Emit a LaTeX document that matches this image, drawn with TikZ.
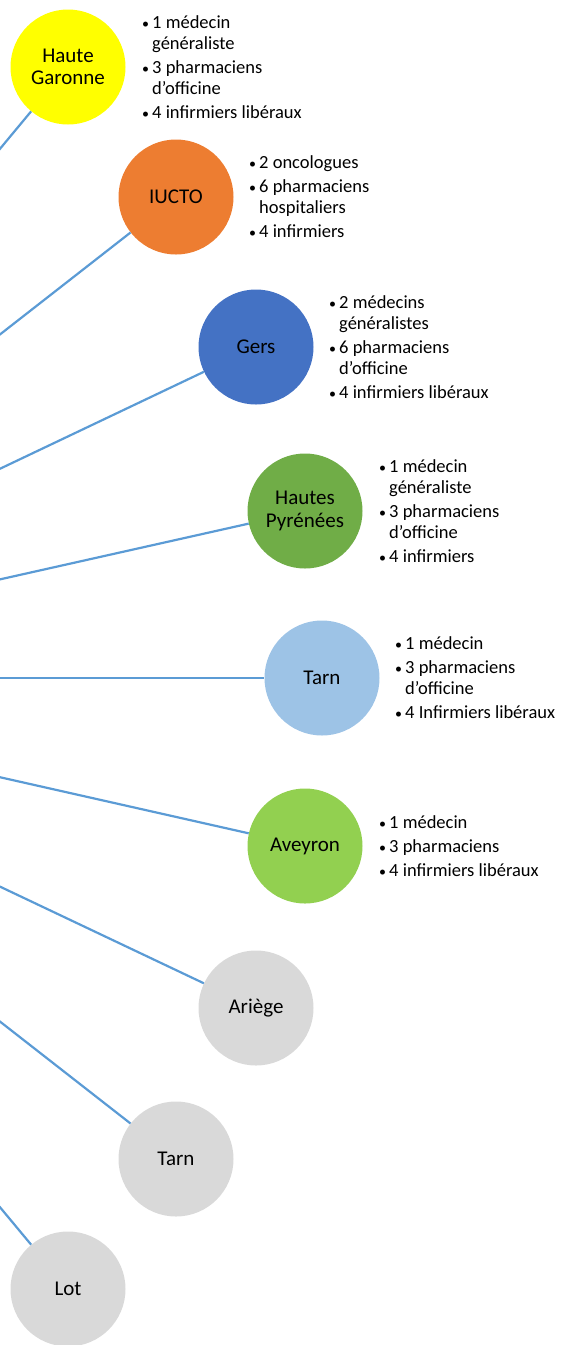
\documentclass[tikz,border=0pt]{standalone}
\usepackage{fontspec}
\setmainfont{Carlito}
\definecolor{linkblue}{HTML}{5B9BD5}
\definecolor{cyellow}{HTML}{FFFF00}
\definecolor{corange}{HTML}{ED7D31}
\definecolor{cblue}{HTML}{4472C4}
\definecolor{cgreen}{HTML}{70AD47}
\definecolor{clightblue}{HTML}{9DC3E6}
\definecolor{clightgreen}{HTML}{92D050}
\definecolor{cgray}{HTML}{D9D9D9}
\newcommand\bitem[1]{\makebox[10pt][l]{\fontsize{14}{14}\selectfont\textbullet}#1}
\newcommand\bcont[1]{\hspace*{10pt}#1}
\begin{document}
\begin{tikzpicture}[x=1pt,y=-1pt,
  region/.style={circle, minimum size=115pt, inner sep=0pt, align=center,
    font=\fontsize{21}{22.5}\selectfont, text=black},
  info/.style={anchor=west, align=left, inner sep=0pt,
    font=\fontsize{18.5}{21}\selectfont, text=black},
  link/.style={draw=linkblue, line width=2.2pt}]
\useasboundingbox (0,0) rectangle (560,1345);
\clip (0,0) rectangle (560,1345);
\coordinate (hub) at (-440,678);
\node[region, fill=cyellow] (hg) at (68,67) {Haute\\Garonne};
\node[region, fill=corange] (iucto) at (176,197) {IUCTO};
\node[region, fill=cblue] (gers) at (256,347) {Gers};
\node[region, fill=cgreen] (hp) at (305,511) {Hautes\\Pyrénées};
\node[region, fill=clightblue] (tarn) at (322,678) {Tarn};
\node[region, fill=clightgreen] (aveyron) at (305,846) {Aveyron};
\node[region, fill=cgray] (ariege) at (256,1008) {Ariège};
\node[region, fill=cgray] (tarn2) at (176,1159) {Tarn};
\node[region, fill=cgray] (lot) at (68,1289) {Lot};
\foreach \n in {hg,iucto,gers,hp,tarn,aveyron,ariege,tarn2,lot}
  \draw[link] (hub) -- (\n);
\node[info] (hginfo) at ([xshift=74pt]hg.center) {\bitem{1 médecin}\\\bcont{généraliste}\\[3pt]\bitem{3 pharmaciens}\\\bcont{d’officine}\\[3pt]\bitem{4 infirmiers libéraux}};
\node[info] (iuctoinfo) at ([xshift=73pt]iucto.center) {\bitem{2 oncologues}\\[3pt]\bitem{6 pharmaciens}\\\bcont{hospitaliers}\\[3pt]\bitem{4 infirmiers}};
\node[info] (gersinfo) at ([xshift=73pt]gers.center) {\bitem{2 médecins}\\\bcont{généralistes}\\[3pt]\bitem{6 pharmaciens}\\\bcont{d’officine}\\[3pt]\bitem{4 infirmiers libéraux}};
\node[info] (hpinfo) at ([xshift=74pt]hp.center) {\bitem{1 médecin}\\\bcont{généraliste}\\[3pt]\bitem{3 pharmaciens}\\\bcont{d’officine}\\[3pt]\bitem{4 infirmiers}};
\node[info] (tarninfo) at ([xshift=73pt]tarn.center) {\bitem{1 médecin}\\[3pt]\bitem{3 pharmaciens}\\\bcont{d’officine}\\[3pt]\bitem{4 Infirmiers libéraux}};
\node[info] (aveyroninfo) at ([xshift=74pt]aveyron.center) {\bitem{1 médecin}\\[3pt]\bitem{3 pharmaciens}\\[3pt]\bitem{4 infirmiers libéraux}};
\end{tikzpicture}
\end{document}
